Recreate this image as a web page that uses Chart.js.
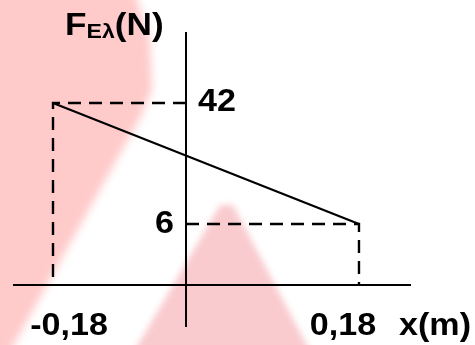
<!DOCTYPE html>
<html>
<head>
<meta charset="utf-8">
<script src="https://cdn.jsdelivr.net/npm/chart.js@4/dist/chart.umd.min.js"></script>
<style>
  html, body { margin: 0; padding: 0; background: #fff; }
  #wrap { width: 475px; height: 345px; }
</style>
</head>
<body>
<div id="wrap"><canvas id="force"></canvas></div>
<script>
// elongation x (m) and elastic force F (N) at the two end positions
const positions = [-0.18, 0.18];
const forces = [42, 6];
const positionLabels = ['-0,18', '0,18'];
const forceLabels = ['42', '6'];

// the sketch is not drawn to scale: each axis maps values piecewise
const axisStops = {
  x: [[-0.24, 0], [positions[0], 0.1005], [0, 0.4347], [positions[1], 0.8693], [0.24, 1]],
  y: [[-8, 0], [0, 0.1424], [forces[1], 0.3492], [forces[0], 0.7593], [54, 1]]
};

function lerpStops(stops, v, from, to) {
  for (let i = 1; i < stops.length; i++) {
    const a = stops[i - 1], b = stops[i];
    if (v <= b[from] || i === stops.length - 1) {
      const t = (v - a[from]) / (b[from] - a[from]);
      return a[to] + t * (b[to] - a[to]);
    }
  }
}

class SketchScale extends Chart.LinearScale {
  getPixelForValue(value) {
    if (value === null || isNaN(value)) return NaN;
    return this.getPixelForDecimal(lerpStops(axisStops[this.id], value, 0, 1));
  }
  getValueForPixel(pixel) {
    return lerpStops(axisStops[this.id], this.getDecimalForPixel(pixel), 1, 0);
  }
}
SketchScale.id = 'sketch';
SketchScale.defaults = Chart.LinearScale.defaults;
Chart.register(SketchScale);

const FONT = '"Liberation Sans", Arial, sans-serif';
const STRETCH = 1.1;

// bold text, slightly widened
function label(ctx, text, x, y, size, align) {
  ctx.font = 'bold ' + size + 'px ' + FONT;
  const w = ctx.measureText(text).width * STRETCH;
  let left = x;
  if (align === 'center') left = x - w / 2;
  if (align === 'right') left = x - w;
  ctx.save();
  ctx.translate(left, y);
  ctx.scale(STRETCH, 1);
  ctx.textAlign = 'left';
  ctx.fillText(text, 0, 0);
  ctx.restore();
  return w;
}

// faded pink logo behind the plot
const backdrop = {
  id: 'backdrop',
  beforeDraw(chart) {
    const ctx = chart.ctx;
    ctx.save();
    ctx.fillStyle = '#fff';
    ctx.fillRect(0, 0, chart.width, chart.height);
    ctx.filter = 'blur(4px)';
    ctx.fillStyle = '#ffcaca';
    ctx.beginPath();
    ctx.moveTo(-10, -10);
    ctx.lineTo(134, -10);
    ctx.lineTo(150, 40);
    ctx.lineTo(152, 90);
    ctx.lineTo(140, 118);
    ctx.lineTo(8, 355);
    ctx.lineTo(-10, 355);
    ctx.closePath();
    ctx.fill();
    ctx.filter = 'blur(3px)';
    ctx.fillStyle = '#f9cbcf';
    ctx.beginPath();
    ctx.moveTo(220, 205);
    ctx.lineTo(233, 205);
    ctx.lineTo(312, 355);
    ctx.lineTo(132, 355);
    ctx.closePath();
    ctx.fill();
    ctx.restore();
  }
};

// axes through the origin plus value labels
const axesAndLabels = {
  id: 'axesAndLabels',
  afterDatasetsDraw(chart) {
    const {ctx, chartArea, scales: {x, y}} = chart;
    const x0 = x.getPixelForValue(0);
    const y0 = y.getPixelForValue(0);
    ctx.save();
    ctx.strokeStyle = '#000';
    ctx.lineWidth = 2;
    ctx.beginPath();
    ctx.moveTo(chartArea.left, y0);
    ctx.lineTo(chartArea.right, y0);
    ctx.moveTo(x0, chartArea.top);
    ctx.lineTo(x0, chartArea.bottom);
    ctx.stroke();

    ctx.fillStyle = '#000';
    ctx.textBaseline = 'alphabetic';
    label(ctx, forceLabels[0], x0 + 12, y.getPixelForValue(forces[0]) + 8, 31, 'left');
    label(ctx, forceLabels[1], x0 - 12, y.getPixelForValue(forces[1]) + 9, 31, 'right');
    label(ctx, positionLabels[0], x.getPixelForValue(positions[0]) + 16, y0 + 50, 31, 'center');
    label(ctx, positionLabels[1], x.getPixelForValue(positions[1]) - 16, y0 + 50, 31, 'center');
    label(ctx, 'x(m)', 399, y0 + 50, 31, 'left');

    // F_Eλ(N) axis title with subscript
    let left = 65;
    left += label(ctx, 'F', left, 35, 32, 'left');
    left += label(ctx, 'Eλ', left, 38, 21, 'left');
    label(ctx, '(N)', left, 35, 32, 'left');
    ctx.restore();
  }
};

function guide(i) {
  return [
    {x: 0, y: forces[i]},
    {x: positions[i], y: forces[i]},
    {x: positions[i], y: 0}
  ];
}

new Chart(document.getElementById('force'), {
  type: 'line',
  data: {
    datasets: [
      {
        data: positions.map((p, i) => ({x: p, y: forces[i]})),
        borderColor: '#000',
        borderWidth: 2.2,
        pointRadius: 0
      },
      {
        data: guide(0),
        borderColor: '#000',
        borderWidth: 2.4,
        borderDash: [13, 8],
        pointRadius: 0
      },
      {
        data: guide(1),
        borderColor: '#000',
        borderWidth: 2.4,
        borderDash: [13, 8],
        pointRadius: 0
      }
    ]
  },
  options: {
    responsive: true,
    maintainAspectRatio: false,
    animation: false,
    layout: { padding: { left: 13, right: 64, top: 32, bottom: 18 } },
    plugins: { legend: { display: false }, tooltip: { enabled: false } },
    elements: { line: { tension: 0 } },
    scales: {
      x: { type: 'sketch', min: -0.24, max: 0.24, display: false },
      y: { type: 'sketch', min: -8, max: 54, display: false }
    }
  },
  plugins: [backdrop, axesAndLabels]
});
</script>
</body>
</html>
